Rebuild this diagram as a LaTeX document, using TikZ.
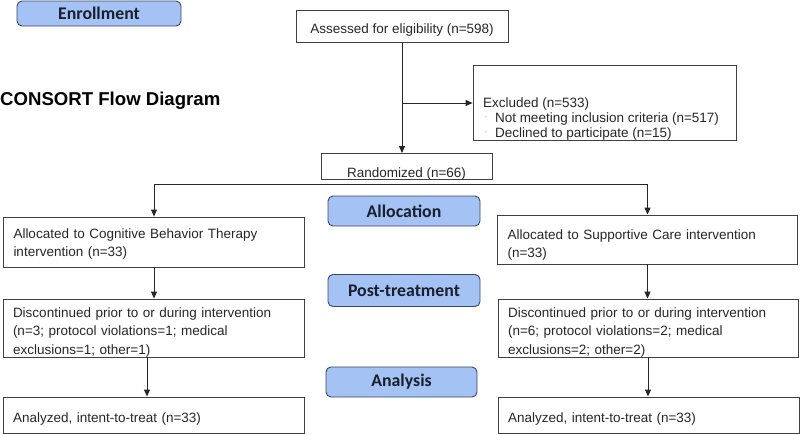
\documentclass[tikz,border=0pt]{standalone}
\usepackage{fontspec}
\setmainfont{Liberation Sans}
\newfontfamily\phasefont{Carlito}
\usetikzlibrary{arrows.meta}
\definecolor{phasefill}{HTML}{A4C2F4}
\definecolor{phaseline}{HTML}{3A4860}
\definecolor{boxline}{HTML}{404040}
\definecolor{phasetext}{HTML}{1A1F2E}

\begin{document}
\begin{tikzpicture}[x=1pt, y=-1pt,
    box/.style={draw=boxline, line width=0.9pt, inner xsep=10pt, inner ysep=0pt, text=black!85, font=\fontsize{13.5}{18.5}\selectfont},
    phase/.style={draw=phaseline, fill=phasefill, rounded corners=5pt, line width=0.9pt, minimum width=152pt, minimum height=30pt, inner sep=0pt, text=phasetext, font=\phasefont\bfseries\fontsize{17.8}{20}\selectfont},
    arr/.style={-{Triangle[width=6pt,length=7pt]}, line width=0.9pt, black!85}]
    \useasboundingbox (0,0) rectangle (800,434);
    % phase labels
    \node[phase, minimum width=164pt, minimum height=25pt] (enroll) at (99,13.5) {Enrollment};
    \node[phase] (alloc) at (404,211) {Allocation};
    \node[phase, minimum height=32pt] (post) at (404,290.5) {Post-treatment};
    \node[phase, minimum width=151pt] (analysis) at (401.5,382) {Analysis};
    \node[anchor=west, inner sep=0pt, text=black, font=\bfseries\fontsize{18.6}{20}\selectfont] (title) at (0,101) {CONSORT Flow Diagram};

    % enrollment
    \node[box, minimum width=212pt, minimum height=32pt] (assess) at (402,26) {\rule{0pt}{17pt}Assessed for eligibility (n=598)};
    \node[box, font=\fontsize{13.5}{15}\selectfont] (excl) at (604.5,103) {\parbox[c][72pt][b]{243pt}{Excluded (n=533)\\
        \makebox[12pt][l]{\hspace{1.5pt}\textcolor{gray}{\footnotesize ¨}}Not meeting inclusion criteria (n=517)\\
        \makebox[12pt][l]{\hspace{1.5pt}\textcolor{gray}{\footnotesize ¨}}Declined to participate (n=15)}};
    \node[box, anchor=north, minimum width=171pt, text height=24pt, text depth=2pt] (rand) at (406.5,153) {Randomized (n=66)};

    % two arms
    \node[box, align=left, text width=281pt, minimum height=50pt] (cbt) at (154,242) {\rule{0pt}{14pt}Allocated to Cognitive Behavior Therapy\\ intervention (n=33)};
    \node[box, align=left, text width=280pt, minimum height=49pt] (sc) at (647.5,239.5) {\rule{0pt}{21pt}Allocated to Supportive Care intervention\\ (n=33)};
    \node[box, align=left, text width=281pt, minimum height=58pt] (cbtdis) at (153.5,328) {\rule{0pt}{18pt}Discontinued prior to or during intervention\\ (n=3; protocol violations=1; medical\\ exclusions=1; other=1)};
    \node[box, align=left, text width=280pt, minimum height=58pt] (scdis) at (648,328) {\rule{0pt}{18pt}Discontinued prior to or during intervention\\ (n=6; protocol violations=2; medical\\ exclusions=2; other=2)};
    \node[box, align=left, text width=281pt, minimum height=36pt] (cbtana) at (153.5,415) {\rule{0pt}{18pt}Analyzed, intent-to-treat (n=33)};
    \node[box, align=left, text width=281pt, minimum height=36pt] (scana) at (648.5,415) {\rule{0pt}{18pt}Analyzed, intent-to-treat (n=33)};

    % connectors
    \draw[arr] (assess.south) -- (assess.south |- rand.north);
    \draw[arr] (assess.south |- excl.west) -- (excl.west);
    \draw[arr] (rand.south) ++(0,5) -| (cbt.north);
    \draw[arr] (rand.south) ++(0,5) -| (sc.north);
    \draw[arr] (cbt.south) -- (cbt.south |- cbtdis.north);
    \draw[arr] (sc.south) -- (sc.south |- scdis.north);
    \draw[arr] ([xshift=-6.5pt]cbtdis.south) -- ([xshift=-6.5pt]cbtana.north);
    \draw[arr] (scdis.south) -- (scdis.south |- scana.north);
\end{tikzpicture}
\end{document}
